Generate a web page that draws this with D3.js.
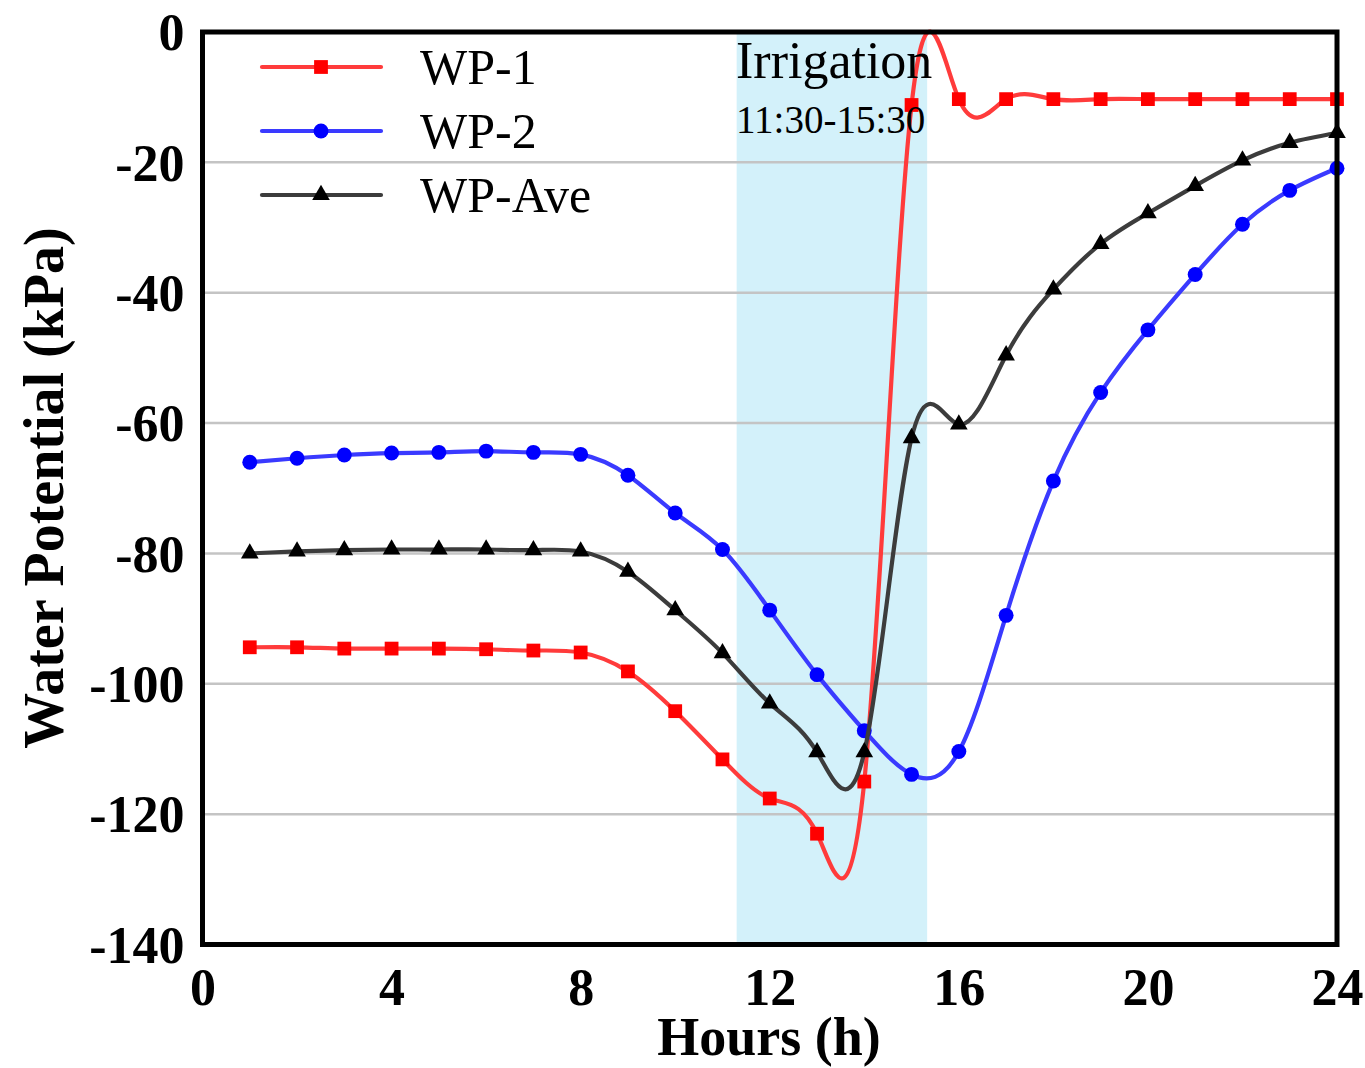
<!DOCTYPE html>
<html>
<head>
<meta charset="utf-8">
<script src="https://cdn.jsdelivr.net/npm/d3@7"></script>
<style>
  html, body { margin: 0; padding: 0; background: #ffffff; }
  svg { display: block; }
</style>
</head>
<body>
<svg id="chart" width="1365" height="1068"></svg>
<script>
// Hourly soil water potential readings (kPa)
const hours = [1, 2, 3, 4, 5, 6, 7, 8, 9, 10, 11, 12, 13, 14, 15, 16, 17, 18, 19, 20, 21, 22, 23, 24];
const wp1 = [-94.4, -94.4, -94.6, -94.6, -94.6, -94.7, -94.9, -95.2, -98.1, -104.2, -111.6, -117.6,
             -123.0, -115.0, -11.2, -10.3, -10.3, -10.3, -10.3, -10.3, -10.3, -10.3, -10.3, -10.3];
const wp2 = [-66.0, -65.4, -64.9, -64.6, -64.5, -64.3, -64.5, -64.8, -68.0, -73.8, -79.4, -88.7,
             -98.6, -107.2, -113.9, -110.4, -89.5, -68.9, -55.3, -45.7, -37.2, -29.5, -24.3, -20.9];
const wpAve = [-80.0, -79.7, -79.5, -79.4, -79.4, -79.4, -79.5, -79.7, -82.8, -88.7, -95.3, -103.0,
               -110.5, -110.5, -62.3, -60.2, -49.6, -39.5, -32.5, -27.8, -23.6, -19.7, -17.0, -15.5];

const xTicks = [0, 4, 8, 12, 16, 20, 24];
const yTicks = [0, -20, -40, -60, -80, -100, -120, -140];
const irrigationSpan = [11.3, 15.33];
const seriesNames = ["WP-1", "WP-2", "WP-Ave"];

(function draw() {
  const svg = d3.select("#chart");
  const serif = "'Liberation Serif', 'Times New Roman', serif";

  const m = { left: 202.5, right: 1337, top: 32, bottom: 944.5 };
  const x = d3.scaleLinear().domain([0, 24]).range([m.left, m.right]);
  const y = d3.scaleLinear().domain([-140, 0]).range([m.bottom, m.top]);

  // Irrigation period shading
  svg.append("rect")
    .attr("x", x(irrigationSpan[0]))
    .attr("y", m.top)
    .attr("width", x(irrigationSpan[1]) - x(irrigationSpan[0]))
    .attr("height", m.bottom - m.top)
    .attr("fill", "#d3f1fa");

  // Horizontal grid lines
  svg.append("g")
    .selectAll("line")
    .data(yTicks.filter(v => v !== 0 && v !== -140))
    .join("line")
    .attr("x1", m.left).attr("x2", m.right)
    .attr("y1", d => y(d)).attr("y2", d => y(d))
    .attr("stroke", "#c4c4c4")
    .attr("stroke-width", 2.5);

  // Y axis labels (plain hyphen for negatives)
  const yAxis = d3.axisLeft(y).tickValues(yTicks).tickSize(0).tickPadding(18).tickFormat(d => String(d));
  const gy = svg.append("g").attr("transform", `translate(${m.left},0)`).call(yAxis);
  gy.select(".domain").remove();
  gy.selectAll("text")
    .attr("font-family", serif).attr("font-weight", "bold").attr("font-size", 52)
    .attr("fill", "#000").attr("dy", "0.34em");

  // X axis labels
  const xAxis = d3.axisBottom(x).tickValues(xTicks).tickSize(0).tickPadding(24).tickFormat(d => String(d));
  const gx = svg.append("g").attr("transform", `translate(0,${m.bottom})`).call(xAxis);
  gx.select(".domain").remove();
  gx.selectAll("text")
    .attr("font-family", serif).attr("font-weight", "bold").attr("font-size", 52)
    .attr("fill", "#000");

  // Axis titles
  svg.append("text")
    .attr("x", 769).attr("y", 1055)
    .attr("text-anchor", "middle")
    .attr("font-family", serif).attr("font-weight", "bold").attr("font-size", 54)
    .text("Hours (h)");

  svg.append("text")
    .attr("transform", "translate(63,488) rotate(-90)")
    .attr("text-anchor", "middle")
    .attr("font-family", serif).attr("font-weight", "bold").attr("font-size", 56)
    .text("Water Potential (kPa)");

  // Series
  const series = [
    { name: seriesNames[0], values: wp1, line: "#ff3b3b", mark: "#ff0000", shape: d3.symbolSquare, size: 190 },
    { name: seriesNames[1], values: wp2, line: "#3a3aff", mark: "#0000ff", shape: d3.symbolCircle, size: 175 },
    { name: seriesNames[2], values: wpAve, line: "#3c3c3c", mark: "#000000", shape: d3.symbolTriangle, size: 135 }
  ];

  const lineGen = d3.line()
    .x(d => x(d[0]))
    .y(d => y(d[1]))
    .curve(d3.curveNatural);

  const plot = svg.append("g");
  series.forEach(s => {
    const pts = hours.map((h, i) => [h, s.values[i]]);
    plot.append("path")
      .datum(pts)
      .attr("d", lineGen)
      .attr("fill", "none")
      .attr("stroke", s.line)
      .attr("stroke-width", 4.2)
      .attr("stroke-linejoin", "round");
    plot.append("g")
      .selectAll("path")
      .data(pts)
      .join("path")
      .attr("transform", d => `translate(${x(d[0])},${y(d[1])})`)
      .attr("d", d3.symbol().type(s.shape).size(s.size))
      .attr("fill", s.mark);
  });

  // Plot frame
  svg.append("rect")
    .attr("x", m.left).attr("y", m.top)
    .attr("width", m.right - m.left).attr("height", m.bottom - m.top)
    .attr("fill", "none")
    .attr("stroke", "#000")
    .attr("stroke-width", 5);

  // Legend
  const legend = svg.append("g");
  const legendY = [67, 131, 195];
  series.forEach((s, i) => {
    const g = legend.append("g").attr("transform", `translate(0,${legendY[i]})`);
    g.append("line")
      .attr("x1", 262).attr("x2", 381)
      .attr("stroke", s.line).attr("stroke-width", 4.2).attr("stroke-linecap", "round");
    g.append("path")
      .attr("transform", "translate(321,0)")
      .attr("d", d3.symbol().type(s.shape).size(s.size))
      .attr("fill", s.mark);
    g.append("text")
      .attr("x", 420).attr("y", 17)
      .attr("font-family", serif).attr("font-size", 50)
      .text(s.name);
  });

  // Irrigation annotation
  svg.append("text")
    .attr("x", 736).attr("y", 78)
    .attr("font-family", serif).attr("font-size", 52)
    .text("Irrigation");
  svg.append("text")
    .attr("x", 736).attr("y", 133)
    .attr("font-family", serif).attr("font-size", 39)
    .text("11:30-15:30");
})();
</script>
</body>
</html>
